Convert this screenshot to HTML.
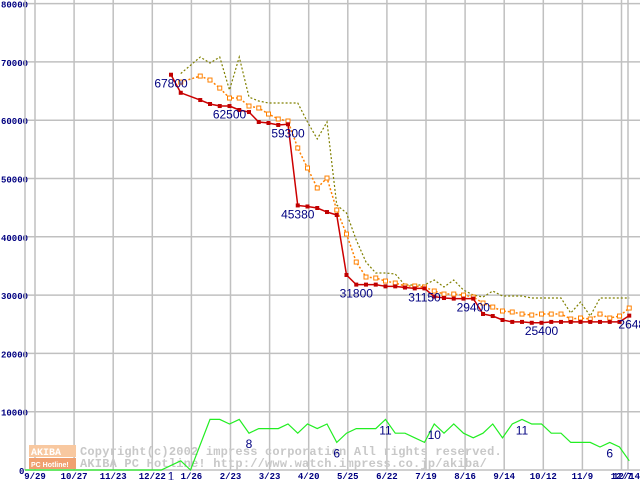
<!DOCTYPE html>
<html><head><meta charset="utf-8"><style>
html,body{margin:0;padding:0;background:#fff;}
svg{display:block;}
.yl{font:bold 9px "Liberation Mono",monospace;fill:#000080;}
.xl{font:bold 9px "Liberation Mono",monospace;fill:#000080;}
.vl{font:12px "Liberation Sans",sans-serif;fill:#000080;}
.wm{font:bold 12px "Liberation Mono",monospace;fill:#c8c8c8;letter-spacing:0.2px;}
</style></head><body>
<svg id="chart" width="640" height="480" xmlns="http://www.w3.org/2000/svg">
<g id="grid"></g>
<g id="wm">
<rect x="29" y="445" width="47" height="12" fill="#f8c8a0"/>
<rect x="29" y="458" width="47" height="11" fill="#f0a070"/>
<text x="31" y="455" style="font:bold 10px 'Liberation Mono',monospace;fill:#fff">AKIBA</text>
<text x="31" y="467" style="font:bold 7px 'Liberation Sans',sans-serif;fill:#fff">PC Hotline!</text>
<text class="wm" x="80" y="455">Copyright(c)2002 impress corporation All rights reserved.</text>
<text class="wm" x="80" y="467">AKIBA PC Hotline!  http://www.watch.impress.co.jp/akiba/</text>
</g>
<g id="series"></g>
<g id="labels"></g>
</svg>
<script>
const yTicks=[0,10000,20000,30000,40000,50000,60000,70000,80000];
const xTickLabels=["9/29","10/27","11/23","12/22","1/26","2/23","3/23","4/20","5/25","6/22","7/19","8/16","9/14","10/12","11/9","12/7"];
const redMin=[67800,64700,null,63460,62780,62430,62430,61750,61400,59690,59520,59180,59300,45380,45200,44940,44250,43740,33450,31800,31800,31800,31500,31500,31300,31150,31150,29750,29500,29400,29400,29400,26760,26410,25730,25400,25400,25250,25250,25400,25400,25400,25400,25400,25400,25400,25400,26480];
const orangeAvg=[null,66540,null,67570,66890,65510,63800,63800,62430,62090,61060,60200,59860,55230,51800,48370,50080,44590,40470,35670,33100,32930,32410,32070,31560,31560,31380,30700,30180,30180,30010,29670,28640,27950,27270,27100,26750,26580,26750,26750,26750,25900,26070,25900,26750,26070,26410,27780];
const oliveMax=[null,68000,null,70830,69800,70830,65170,70830,63970,63290,62950,62950,62950,62950,59690,56780,59690,45450,44080,39450,35670,33790,33790,33620,31730,31730,31730,32590,31390,32590,30870,30010,29670,30700,29840,29840,29840,29500,29500,29500,29500,26920,28810,26410,29500,29500,29500,29500];
const shopCount=[0,0,0,0,0,0,0,0,0,0,0,0,0,0,0,1,2,0,null,11,11,10,11,8,9,9,9,10,8,10,9,10,6,8,9,9,9,11,8,8,7,6,10,8,10,8,7,8,10,7,10,11,10,10,8,8,6,6,6,5,6,5,2];
const valueLabels=[[0,67800,"67800"],[6,62500,"62500"],[12,59300,"59300"],[13,45380,"45380"],[19,31800,"31800"],[26,31150,"31150"],[31,29400,"29400"],[38,25400,"25400"],[47.6,26480,"26480"]];
const countLabels=[[0,1,"1"],[8,8,"8"],[17,6,"6"],[22,11,"11"],[27,10,"10"],[36,11,"11"],[45,6,"6"]];
const NS="http://www.w3.org/2000/svg";
const xw=i=>171+9.75*i;
const yv=v=>470-v*0.00583;
const yc=c=>470-c*4.6;
const tickX=k=>35+39.1*k;
function mk(t,a,p){const e=document.createElementNS(NS,t);for(const k in a)e.setAttribute(k,a[k]);p.appendChild(e);return e;}
const grid=document.getElementById('grid');
yTicks.forEach(v=>{
 const l=mk('line',{x1:25,x2:640,y1:yv(v),y2:yv(v),stroke:'#c0c0c0','stroke-width':1.5},grid);
 
 
 const t=mk('text',{x:v==0?19:1,y:yv(v)+4,class:'yl'},grid);t.textContent=String(v);
 
 
});
const ax=mk('line',{x1:25,x2:25,y1:0,y2:470,stroke:'#c0c0c0','stroke-width':1.5},grid);


const ex=mk('line',{x1:628,x2:628,y1:0,y2:470,stroke:'#c0c0c0','stroke-width':1.5},grid);


xTickLabels.forEach((s,k)=>{
 const x=tickX(k);
 const l=mk('line',{x1:x,x2:x,y1:0,y2:470,stroke:'#c0c0c0','stroke-width':1.5},grid);
 
 
 const t=mk('text',{x:x,y:479,class:'xl','text-anchor':'middle'},grid);t.textContent=s;
 
 
});
const t2=mk('text',{x:640,y:479,class:'xl','text-anchor':'end'},grid);t2.textContent="12/14";


const ser=document.getElementById('series');
function pts(arr,off,fx,fy){const p=[];arr.forEach((v,i)=>{if(v!==null)p.push([fx(i+off),fy(v)]);});return p;}
function line(p,st,w,dash,name){const e=mk('polyline',{points:p.map(a=>a.join(',')).join(' '),fill:'none',stroke:st,'stroke-width':w},ser);if(dash)e.setAttribute('stroke-dasharray',dash);
 
 }
const gp=pts(shopCount,-15,xw,yc);
line(gp,'#22ee22',1.2,null,'shop-count-line');
const op=pts(oliveMax,0,xw,yv);
line(op,'#808000',1.2,'2,2','max-price-line');
const orp=pts(orangeAvg,0,xw,yv);
line(orp,'#ff8000',1.5,'2,2','avg-price-line');
orp.forEach(p=>{const r=mk('rect',{x:p[0]-2,y:p[1]-2,width:4,height:4,fill:'#fff',stroke:'#ff8000','stroke-width':1},ser);
 
 });
const rp=pts(redMin,0,xw,yv);
line(rp,'#cc0000',1.5,null,'min-price-line');
rp.forEach(p=>{const r=mk('rect',{x:p[0]-2,y:p[1]-2,width:4,height:4,fill:'#c00000'},ser);
 
 });
const lab=document.getElementById('labels');
valueLabels.forEach(([i,v,s])=>{const t=mk('text',{x:xw(i),y:yv(v)+13,class:'vl','text-anchor':'middle'},lab);t.textContent=s;
 
 });
countLabels.forEach(([i,c,s])=>{const t=mk('text',{x:xw(i),y:yc(c)+15,class:'vl','text-anchor':'middle'},lab);t.textContent=s;
 
 });
</script>
</body></html>
